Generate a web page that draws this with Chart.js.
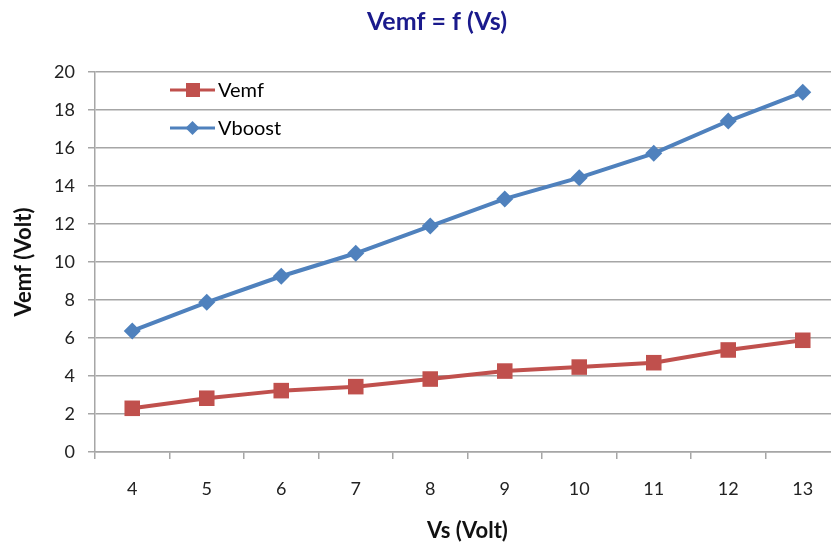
<!DOCTYPE html>
<html>
<head>
<meta charset="utf-8">
<script src="https://cdn.jsdelivr.net/npm/chart.js@4"></script>
<style>
  html, body { margin: 0; padding: 0; background: #fff; overflow: hidden; }
  #wrap { width: 874px; height: 545px; }
</style>
</head>
<body>
<div id="wrap"><canvas id="chart" width="874" height="545"></canvas></div>
<script>
const vsLabels = ["4", "5", "6", "7", "8", "9", "10", "11", "12", "13"];
const vemf = [2.3, 2.83, 3.23, 3.44, 3.84, 4.26, 4.47, 4.7, 5.37, 5.88];
const vboost = [6.37, 7.88, 9.25, 10.46, 11.89, 13.32, 14.44, 15.72, 17.42, 18.93];
const chartTitle = "Vemf = f (Vs)";

const FONT = "Lato, 'Open Sans', sans-serif";
const GRID = "#a6a6a6";

// title centred on the whole (uncropped) chart width
const topTitle = {
  id: "topTitle",
  afterDraw(chart) {
    const ctx = chart.ctx;
    ctx.save();
    ctx.fillStyle = "#1a1a8c";
    ctx.font = "bold 25px " + FONT;
    ctx.textAlign = "center";
    ctx.textBaseline = "middle";
    ctx.fillText(chartTitle, chart.width / 2, 22);
    ctx.restore();
  }
};

// legend drawn inside the plot, like the original
const innerLegend = {
  id: "innerLegend",
  afterDraw(chart) {
    const ctx = chart.ctx;
    const x0 = 170, rows = [90, 128];
    chart.data.datasets.forEach((ds, i) => {
      const y = rows[i];
      ctx.save();
      ctx.strokeStyle = ds.borderColor;
      ctx.lineWidth = 3;
      ctx.beginPath();
      ctx.moveTo(x0, y);
      ctx.lineTo(x0 + 45, y);
      ctx.stroke();
      ctx.fillStyle = ds.backgroundColor;
      ctx.beginPath();
      if (ds.pointStyle === "rect") {
        ctx.rect(x0 + 16, y - 7, 14, 14);
      } else {
        ctx.moveTo(x0 + 22.5, y - 7);
        ctx.lineTo(x0 + 29.5, y);
        ctx.lineTo(x0 + 22.5, y + 7);
        ctx.lineTo(x0 + 15.5, y);
        ctx.closePath();
      }
      ctx.fill();
      ctx.fillStyle = "#000";
      ctx.font = "20px " + FONT;
      ctx.textBaseline = "middle";
      ctx.fillText(ds.label, x0 + 48, y + 1);
      ctx.restore();
    });
  }
};

new Chart(document.getElementById("chart"), {
  type: "line",
  data: {
    labels: vsLabels,
    datasets: [
      {
        label: "Vemf",
        data: vemf,
        borderColor: "#c0504d",
        backgroundColor: "#c0504d",
        borderWidth: 4,
        pointStyle: "rect",
        pointRadius: 11,
        pointBorderWidth: 0,
        tension: 0
      },
      {
        label: "Vboost",
        data: vboost,
        borderColor: "#4f81bd",
        backgroundColor: "#4f81bd",
        borderWidth: 4,
        pointStyle: "rectRot",
        pointRadius: 8.5,
        pointBorderWidth: 0,
        tension: 0
      }
    ]
  },
  options: {
    responsive: false,
    animation: false,
    layout: { padding: { left: 0, right: 34, top: 72, bottom: 0 } },
    plugins: {
      legend: { display: false },
      tooltip: { enabled: false },
      title: { display: false }
    },
    scales: {
      x: {
        offset: true,
        grid: {
          offset: true,
          drawOnChartArea: false,
          drawTicks: true,
          tickLength: 7,
          color: GRID,
          lineWidth: 1.5
        },
        border: { color: GRID, width: 1.5 },
        ticks: {
          color: "#222",
          padding: 19,
          font: { family: FONT, size: 18 }
        },
        title: {
          display: true,
          text: "Vs (Volt)",
          color: "#111",
          font: { family: FONT, size: 22, weight: "bold" },
          padding: { top: 0, bottom: 1 }
        },
        afterFit(scale) { scale.height = 93; }
      },
      y: {
        min: 0,
        max: 20,
        grid: {
          color: GRID,
          lineWidth: 1.5,
          tickLength: 7
        },
        border: { color: GRID, width: 1.5 },
        ticks: {
          stepSize: 2,
          color: "#222",
          padding: 13,
          font: { family: FONT, size: 18 }
        },
        title: {
          display: true,
          text: "Vemf (Volt)",
          color: "#111",
          font: { family: FONT, size: 22, weight: "bold" },
          padding: { top: 11, bottom: 0 }
        },
        afterFit(scale) { scale.width = 95; }
      }
    }
  },
  plugins: [topTitle, innerLegend]
});
</script>
</body>
</html>
